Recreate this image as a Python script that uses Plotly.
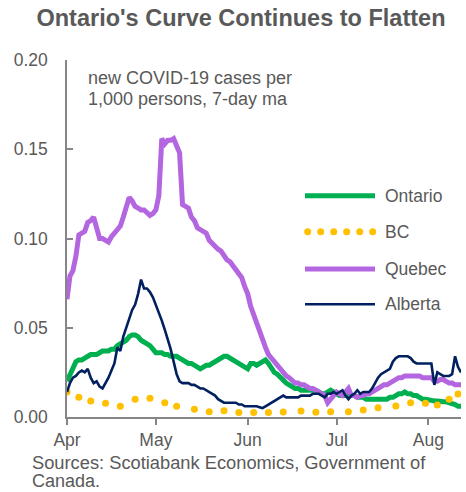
import plotly.graph_objects as go
import pandas as pd

START = pd.Timestamp("2020-04-01")

# Quebec, day offset from Apr 1 -> value
qc_day = list(range(0, 134))
qc_val = [0.066, 0.079, 0.082, 0.090, 0.102, 0.103, 0.104, 0.109, 0.110, 0.112,
          0.106, 0.100, 0.100, 0.099, 0.098, 0.101, 0.103, 0.105, 0.107, 0.112,
          0.118, 0.123, 0.121, 0.118, 0.117, 0.116, 0.116, 0.114, 0.113, 0.114,
          0.116, 0.124, 0.156, 0.153, 0.155, 0.155, 0.156, 0.152, 0.148, 0.119,
          0.118, 0.117, 0.112, 0.110, 0.106, 0.105, 0.104, 0.103, 0.099, 0.097,
          0.096, 0.094, 0.093, 0.090, 0.088, 0.087, 0.085, 0.083, 0.080, 0.078,
          0.073, 0.069, 0.062, 0.057, 0.052, 0.047, 0.043, 0.039, 0.035, 0.033,
          0.030, 0.028, 0.026, 0.025, 0.023, 0.022, 0.020, 0.019, 0.019, 0.018,
          0.018, 0.017, 0.016, 0.016, 0.015, 0.014, 0.013, 0.012, 0.008, 0.010,
          0.013, 0.014, 0.013, 0.012, 0.014, 0.016, 0.012, 0.012, 0.011, 0.012,
          0.012, 0.013, 0.013, 0.014, 0.015, 0.016, 0.017, 0.018, 0.018, 0.019,
          0.020, 0.021, 0.022, 0.022, 0.023, 0.023, 0.023, 0.023, 0.023, 0.023,
          0.022, 0.022, 0.022, 0.022, 0.020, 0.020, 0.021, 0.021, 0.020, 0.019,
          0.019, 0.018, 0.018, 0.018]

on_day = list(range(0, 134))
on_val = [0.020, 0.024, 0.028, 0.031, 0.032, 0.032, 0.033, 0.034, 0.035, 0.035,
          0.035, 0.036, 0.037, 0.037, 0.037, 0.038, 0.038, 0.040, 0.041, 0.042,
          0.043, 0.045, 0.046, 0.046, 0.045, 0.043, 0.042, 0.041, 0.040, 0.038,
          0.036, 0.036, 0.036, 0.035, 0.035, 0.034, 0.034, 0.034, 0.033, 0.032,
          0.031, 0.030, 0.030, 0.029, 0.028, 0.027, 0.028, 0.029, 0.029, 0.030,
          0.031, 0.032, 0.033, 0.034, 0.034, 0.033, 0.032, 0.031, 0.030, 0.029,
          0.028, 0.027, 0.030, 0.030, 0.029, 0.030, 0.031, 0.032, 0.030, 0.027,
          0.025, 0.024, 0.022, 0.021, 0.019, 0.018, 0.017, 0.016, 0.016, 0.015,
          0.015, 0.015, 0.015, 0.015, 0.015, 0.014, 0.013, 0.013, 0.014, 0.015,
          0.014, 0.013, 0.012, 0.012, 0.012, 0.012, 0.012, 0.012, 0.011, 0.011,
          0.011, 0.010, 0.010, 0.010, 0.0095, 0.0095, 0.0095, 0.010, 0.010, 0.011,
          0.011, 0.012, 0.013, 0.013, 0.014, 0.013, 0.013, 0.012, 0.012, 0.011,
          0.010, 0.010, 0.0095, 0.009, 0.009, 0.009, 0.0085, 0.0085, 0.0085, 0.008,
          0.008, 0.007, 0.006, 0.006]

ab_day = list(range(0, 134))
ab_val = [0.014, 0.019, 0.022, 0.023, 0.025, 0.026, 0.025, 0.027, 0.022, 0.019,
          0.020, 0.017, 0.016, 0.019, 0.022, 0.026, 0.030, 0.039, 0.037, 0.045,
          0.050, 0.055, 0.060, 0.063, 0.069, 0.077, 0.072, 0.072, 0.070, 0.067,
          0.063, 0.058, 0.054, 0.049, 0.044, 0.038, 0.031, 0.024, 0.020, 0.019,
          0.019, 0.019, 0.018, 0.018, 0.017, 0.016, 0.016, 0.015, 0.014, 0.013,
          0.012, 0.010, 0.009, 0.008, 0.008, 0.008, 0.008, 0.008, 0.007, 0.007,
          0.006, 0.006, 0.006, 0.006, 0.006, 0.0055, 0.005, 0.006, 0.007, 0.008,
          0.009, 0.010, 0.011, 0.012, 0.011, 0.011, 0.011, 0.011, 0.011, 0.012,
          0.012, 0.012, 0.012, 0.013, 0.013, 0.013, 0.012, 0.011, 0.013, 0.013,
          0.014, 0.013, 0.014, 0.015, 0.012, 0.010, 0.012, 0.013, 0.015, 0.013,
          0.014, 0.014, 0.014, 0.016, 0.019, 0.022, 0.024, 0.025, 0.026, 0.027,
          0.031, 0.033, 0.034, 0.034, 0.034, 0.034, 0.033, 0.031, 0.030, 0.030,
          0.030, 0.030, 0.030, 0.030, 0.018, 0.025, 0.024, 0.023, 0.023, 0.023,
          0.024, 0.034, 0.028, 0.025]

bc_day = [0, 4, 8, 13, 18, 23, 28, 33, 37, 43, 48, 53, 58, 63, 68, 73, 79, 84,
          89, 95, 100, 105, 111, 116, 121, 125, 129, 132]
bc_val = [0.014, 0.011, 0.009, 0.0077, 0.006, 0.010, 0.0105, 0.008, 0.006, 0.0043,
          0.003, 0.0035, 0.0025, 0.0025, 0.0025, 0.0028, 0.0034, 0.0026, 0.003, 0.003,
          0.0039, 0.0052, 0.0062, 0.008, 0.0077, 0.0067, 0.0099, 0.0129]

y_ticks = [0.0, 0.05, 0.10, 0.15, 0.20]
x_tick_dates = ["2020-04-01", "2020-05-01", "2020-06-01", "2020-07-01", "2020-08-01"]
x_tick_text = ["Apr", "May", "Jun", "Jul", "Aug"]

names = ["Ontario", "BC", "Quebec", "Alberta"]
colors = {"Ontario": "#00B050", "BC": "#FFC000", "Quebec": "#B366E0", "Alberta": "#002060"}

def to_dates(days):
    return [START + pd.Timedelta(days=d) for d in days]

FONT = "Liberation Sans, Arial, sans-serif"
GRAY = "#595959"
AX = "#868686"

fig = go.Figure()
fig.add_trace(go.Scatter(x=to_dates(on_day), y=on_val, mode="lines", name="Ontario",
                         line=dict(color=colors["Ontario"], width=5)))
fig.add_trace(go.Scatter(x=to_dates(bc_day), y=bc_val, mode="markers", name="BC",
                         marker=dict(color=colors["BC"], size=7, line=dict(width=0))))
fig.add_trace(go.Scatter(x=to_dates(qc_day), y=qc_val, mode="lines", name="Quebec",
                         line=dict(color=colors["Quebec"], width=5)))
fig.add_trace(go.Scatter(x=to_dates(ab_day), y=ab_val, mode="lines", name="Alberta",
                         line=dict(color=colors["Alberta"], width=2.6)))

L, R, T, B = 67, 5, 60, 75
W, H = 466, 492
PW, PH = W - L - R, H - T - B

def px(x):
    return (x - L) / PW

def py(y):
    return (H - B - y) / PH

annotations = [
    dict(text="new COVID-19 cases per", x=px(86), y=py(78), size=18),
    dict(text="1,000 persons, 7-day ma", x=px(86), y=py(99), size=18),
    dict(text="Sources: Scotiabank Economics, Government of", x=px(30), y=py(462), size=18.3),
    dict(text="Canada.", x=px(30), y=py(480.5), size=18),
]
shapes = []
leg_y = {"Ontario": 195.7, "BC": 231.7, "Quebec": 269, "Alberta": 304.3}
for n in names:
    yy = leg_y[n]
    annotations.append(dict(text=n, x=px(383), y=py(yy), size=17.5))
    if n == "BC":
        for i in range(6):
            cx = 307.7 + 13 * i
            shapes.append(dict(type="circle", xref="paper", yref="paper",
                               x0=px(cx - 3.5), x1=px(cx + 3.5),
                               y0=py(yy + 3.5), y1=py(yy - 3.5),
                               fillcolor=colors["BC"], line=dict(width=0)))
    else:
        w = 2.6 if n == "Alberta" else 5
        shapes.append(dict(type="line", xref="paper", yref="paper",
                           x0=px(305), x1=px(375), y0=py(yy), y1=py(yy),
                           line=dict(color=colors[n], width=w)))

for a in annotations:
    s = a.pop("size")
    a.update(xref="paper", yref="paper", xanchor="left", yanchor="middle",
             showarrow=False, font=dict(family=FONT, size=s, color=GRAY))

fig.update_layout(
    width=W, height=H,
    margin=dict(l=L, r=R, t=T, b=B),
    paper_bgcolor="white", plot_bgcolor="white",
    showlegend=False,
    title=dict(text="<b>Ontario's Curve Continues to Flatten</b>", x=241 / W, xanchor="center",
               y=1 - 18 / H, yanchor="middle", yref="container",
               font=dict(family=FONT, size=23.5, color=GRAY)),
    annotations=annotations,
    shapes=shapes,
    xaxis=dict(range=[START, START + pd.Timedelta(days=133)], tickvals=x_tick_dates,
               ticktext=x_tick_text, showgrid=False, zeroline=False,
               showline=True, linecolor=AX, linewidth=1.5,
               ticks="outside", ticklen=6, tickcolor=AX, tickwidth=1.5,
               tickfont=dict(family=FONT, size=17.5, color=GRAY)),
    yaxis=dict(range=[0, 0.20], tickvals=y_ticks, tickformat=".2f", showgrid=False,
               zeroline=False, showline=True, linecolor=AX, linewidth=1.5,
               ticks="inside", ticklen=6, tickcolor=AX, tickwidth=1.5,
               ticklabelstandoff=14,
               tickfont=dict(family=FONT, size=17.5, color=GRAY)),
)

fig.write_html("out.html")
